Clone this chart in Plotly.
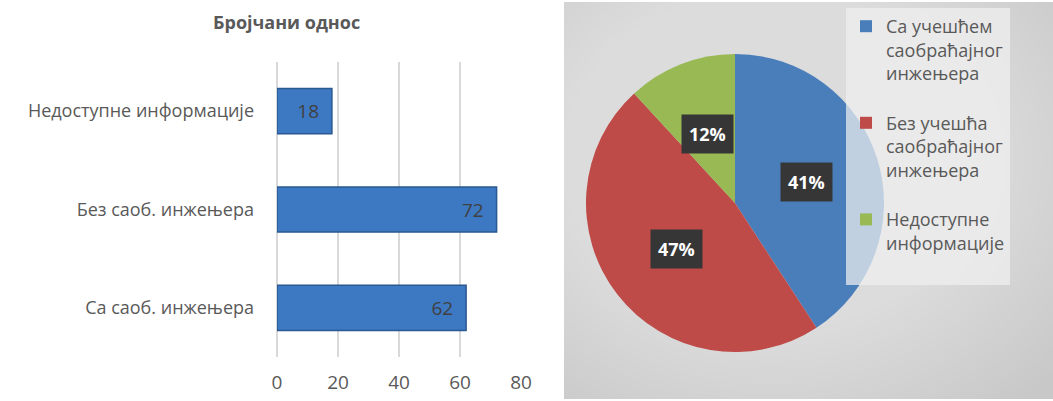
import math
import plotly.graph_objects as go

# ---------------- data ----------------
bar_categories = ["Са саоб. инжењера", "Без саоб. инжењера", "Недоступне информације"]
bar_values = [62, 72, 18]
x_ticks = [0, 20, 40, 60, 80]
bar_title = "Бројчани однос"

pie_labels = ["Са учешћем<br>саобраћајног<br>инжењера",
              "Без учешћа<br>саобраћајног<br>инжењера",
              "Недоступне<br>информације"]
pie_values = [62, 72, 18]
pie_colors = ["#4a7ebb", "#be4b48", "#98b954"]

# ---------------- layout geometry ----------------
W, H = 1053, 401
FONT = "Open Sans"
GREY = "#595959"

def px(x):
    return x / W

def py(y):
    return 1 - y / H

fig = go.Figure()

fig.add_trace(go.Bar(
    x=bar_values, y=bar_categories, orientation="h",
    marker=dict(color="#3d78c2", line=dict(color="#2a5890", width=1.5)),
    texttemplate="%{x}\u00a0\u00a0", textposition="inside",
    insidetextanchor="end",
    textfont=dict(family=FONT, size=19, color="#404040"),
    showlegend=False, xaxis="x", yaxis="y", cliponaxis=False,
))

# pie geometry
pcx, pcy, pr = 735, 203, 149
fig.add_trace(go.Pie(
    labels=[lab + "<br> " for lab in pie_labels], values=pie_values, sort=False,
    direction="clockwise", rotation=0,
    marker=dict(colors=pie_colors, line=dict(width=0)),
    textinfo="none", hoverinfo="percent",
    domain=dict(x=[px(pcx - pr), px(pcx + pr)], y=[py(pcy + pr), py(pcy - pr)]),
    showlegend=True, automargin=False,
))

# percentage labels placed at slice mid-angles, computed from the data
total = sum(pie_values)
annotations = []
cum = 0
for v in pie_values:
    frac = v / total
    mid = (cum + frac / 2) * 2 * math.pi
    cum += frac
    rr = 0.5 * pr
    lx = pcx + rr * math.sin(mid)
    ly = pcy - rr * math.cos(mid)
    annotations.append(dict(
        x=px(lx), y=py(ly), xref="paper", yref="paper",
        xanchor="center", yanchor="middle",
        text="<b>%d%%</b>" % round(frac * 100), showarrow=False,
        font=dict(family=FONT, size=18, color="white"),
        bgcolor="#363636", borderpad=7,
    ))

annotations.append(dict(
    x=px(286), y=py(22), xref="paper", yref="paper", xanchor="center", yanchor="middle",
    text="<b>" + bar_title + "</b>",
    showarrow=False, font=dict(family=FONT, size=18, color=GREY),
))

# background panel with a soft radial shading (white veils; spill-over lands on white paper)
shapes = [dict(type="rect", xref="paper", yref="paper", x0=px(564), x1=1, y0=py(399), y1=py(2),
               fillcolor="#c8c8c8", line=dict(width=0), layer="below")]
gcx, gcy = 770, 160
n = 40
for i in range(n):
    t = i / n
    rx = 360 * (1 - t) + 20
    ry = 300 * (1 - t) + 15
    shapes.append(dict(type="circle", xref="paper", yref="paper",
                       x0=px(gcx - rx), x1=px(gcx + rx),
                       y0=py(gcy + ry), y1=py(gcy - ry),
                       fillcolor="white", opacity=0.028, line=dict(width=0), layer="below"))
# keep the gap between the two panels white
shapes.append(dict(type="rect", xref="paper", yref="paper", x0=px(530), x1=px(564), y0=0, y1=1,
                   fillcolor="white", line=dict(width=0), layer="below"))

fig.update_layout(
    width=W, height=H, margin=dict(l=0, r=0, t=0, b=0, autoexpand=False),
    paper_bgcolor="white", plot_bgcolor="rgba(0,0,0,0)",
    font=dict(family=FONT, color=GREY),
    bargap=0.54,
    xaxis=dict(domain=[px(277), px(521)], range=[0, 80], tickvals=x_ticks,
               showgrid=True, gridcolor="#d9d9d9", gridwidth=2,
               zeroline=True, zerolinecolor="#d9d9d9", zerolinewidth=2,
               showline=False, tickfont=dict(family=FONT, size=19, color=GREY),
               ticks="", ticklabelstandoff=12, fixedrange=True, automargin=False),
    yaxis=dict(domain=[py(357), py(62)], showgrid=False, zeroline=False,
               showline=False, tickfont=dict(family=FONT, size=18, color=GREY),
               ticks="", ticklabelstandoff=22, fixedrange=True, automargin=False),
    legend=dict(x=px(846), y=py(8), xanchor="left", yanchor="top",
                bgcolor="rgba(240,240,240,0.72)", borderwidth=0,
                font=dict(family=FONT, size=18, color=GREY),
                valign="top", itemwidth=30),
    annotations=annotations, shapes=shapes,
)

fig.write_html("out.html", config={"displayModeBar": False},
               post_script="document.body.style.margin='0';document.body.style.overflow='hidden';")
